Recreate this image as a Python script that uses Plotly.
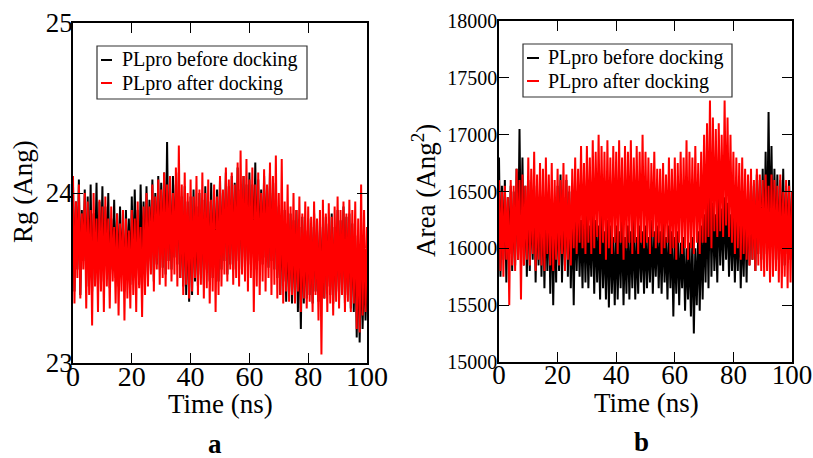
import plotly.graph_objects as go

time_ns = [i * 0.5 for i in range(201)]

rg_before = [
    24.05,23.42,23.95,23.55,24.08,23.40,23.90,23.60,24.02,23.45,
    23.98,23.50,24.05,23.42,23.88,23.58,24.06,23.45,23.95,23.55,
    24.04,23.48,23.92,23.60,24.00,23.44,23.85,23.55,23.96,23.50,
    23.88,23.45,23.92,23.58,23.80,23.42,23.90,23.52,23.85,23.46,
    23.98,23.50,24.02,23.58,23.90,23.46,24.05,23.55,23.95,23.50,
    24.04,23.52,23.96,23.60,24.08,23.48,24.00,23.58,24.10,23.55,
    24.06,23.56,24.12,23.52,24.30,23.60,24.02,23.55,24.10,23.62,
    24.05,23.58,24.12,23.50,23.98,23.45,24.04,23.40,23.95,23.36,
    23.98,23.40,24.02,23.48,23.92,23.45,24.00,23.52,23.96,23.46,
    24.04,23.55,23.95,23.48,24.06,23.50,23.98,23.56,24.02,23.48,
    24.08,23.55,24.00,23.60,24.12,23.52,24.04,23.58,24.10,23.55,
    24.06,23.60,24.15,23.55,24.02,23.62,24.10,23.56,24.05,23.60,
    24.12,23.58,24.05,23.62,24.18,23.55,24.08,23.60,24.02,23.58,
    24.10,23.62,24.04,23.56,24.12,23.60,24.00,23.55,24.06,23.50,
    23.92,23.40,23.85,23.48,23.90,23.36,23.82,23.42,23.88,23.35,
    23.84,23.40,23.90,23.30,23.80,23.20,23.86,23.35,23.78,23.38,
    23.85,23.40,23.80,23.35,23.88,23.42,23.78,23.36,23.84,23.40,
    23.80,23.38,23.86,23.45,23.82,23.40,23.88,23.35,23.80,23.42,
    23.90,23.38,23.84,23.45,23.92,23.35,23.86,23.40,23.88,23.32,
    23.82,23.30,23.75,23.15,23.70,23.12,23.65,23.20,23.60,23.25,
    23.55,
]

rg_after = [
    24.10,23.35,23.95,23.50,24.05,23.38,23.88,23.55,24.00,23.32,
    23.95,23.40,23.90,23.22,24.00,23.45,23.85,23.30,23.96,23.42,
    23.92,23.30,23.98,23.45,23.85,23.32,23.92,23.48,23.80,23.35,
    23.88,23.28,23.82,23.42,23.90,23.25,23.85,23.38,23.78,23.32,
    23.90,23.40,23.85,23.30,23.95,23.44,23.80,23.27,23.92,23.40,
    24.00,23.45,23.92,23.52,24.05,23.42,23.98,23.55,24.08,23.46,
    24.02,23.50,24.12,23.45,24.05,23.55,24.10,23.48,24.00,23.52,
    24.15,23.45,24.28,23.50,24.05,23.40,24.12,23.46,24.00,23.38,
    24.08,23.42,23.98,23.50,24.10,23.40,24.02,23.46,24.12,23.38,
    24.00,23.44,24.08,23.35,23.96,23.42,24.05,23.30,23.98,23.40,
    24.10,23.45,24.02,23.52,24.15,23.48,24.08,23.55,24.12,23.46,
    24.05,23.50,24.18,23.45,24.25,23.52,24.10,23.48,24.20,23.42,
    24.08,23.50,24.15,23.30,24.05,23.45,24.12,23.40,24.00,23.48,
    24.14,23.42,24.05,23.50,24.18,23.40,24.10,23.46,24.22,23.38,
    24.00,23.40,24.20,23.35,23.95,23.42,24.05,23.36,23.92,23.40,
    24.00,23.35,23.90,23.42,23.98,23.30,23.88,23.38,23.95,23.32,
    23.92,23.36,23.86,23.30,23.95,23.40,23.85,23.25,23.90,23.05,
    23.96,23.38,23.88,23.30,23.94,23.35,23.86,23.28,23.92,23.36,
    23.98,23.32,23.90,23.40,23.95,23.30,23.88,23.36,23.96,23.30,
    23.90,23.35,23.95,23.20,23.85,23.18,24.05,23.28,23.90,23.30,
    23.80,
]

area_before = [
    16800,15750,16550,15900,16600,15700,16450,15950,16550,15800,
    16500,15850,16700,15900,17050,15950,16800,15850,16550,15750,
    16600,15800,16450,15900,16550,15700,16400,15850,16500,15750,
    16450,15650,16350,15800,16500,15600,16400,15500,16300,15700,
    16550,15800,16650,15700,16450,15850,16600,15750,16500,15650,
    16350,15500,16400,15800,16300,15750,16250,15650,16350,15700,
    16300,15650,16200,15750,16350,15600,16250,15700,16200,15550,
    16300,15650,16150,15550,16250,15480,16200,15600,16100,15500,
    16200,15550,16150,15650,16250,15500,16100,15600,16200,15550,
    16150,15650,16250,15550,16100,15600,16200,15700,16150,15600,
    16200,15650,16100,15700,16250,15600,16150,15750,16200,15650,
    16150,15600,16250,15700,16100,15550,16200,15650,16150,15400,
    16100,15600,16150,15500,16050,15650,16100,15450,16000,15550,
    16050,15400,16100,15250,16000,15500,16150,15450,16200,15550,
    16300,15700,16450,15650,16650,15750,16400,15800,16300,15700,
    16500,15850,16350,15800,16450,15900,16400,15750,16300,15800,
    16300,15700,16250,15800,16350,15650,16200,15750,16400,15700,
    16500,15850,16600,15900,16550,15800,16650,15950,16600,15900,
    16700,15950,16850,16000,17200,16050,16900,15950,16700,15900,
    16650,15900,16600,15950,16700,15850,16550,15950,16600,15900,
    16500,
]

area_after = [
    16600,15800,16500,15750,16550,15900,16450,15500,16600,15850,
    16550,15800,16700,15900,16600,15550,16650,15850,16550,15900,
    16800,15850,16700,15950,16850,15800,16650,15900,16750,15850,
    16700,15800,16800,15950,16650,15850,16750,15800,16600,15900,
    16700,15850,16600,15950,16750,15800,16650,15900,16550,15850,
    16700,16000,16800,15950,16700,16050,16900,16000,16750,15950,
    16900,16050,16800,15950,16950,16000,16850,16100,17000,15950,
    16900,16050,16850,15900,16950,16000,16800,15950,16900,16050,
    16850,15950,16950,16050,16800,15900,16900,16000,16850,16050,
    16950,15950,16800,16050,16900,15950,16850,16050,17000,16000,
    16850,16050,16800,15950,16750,16100,16850,16000,16700,16050,
    16700,15950,16750,16000,16650,16050,16800,15950,16700,16000,
    16800,15900,16750,16050,16850,15950,16800,16000,16950,15900,
    16850,16000,16800,15950,16900,16050,16750,15950,16850,16050,
    17000,16050,17100,16100,17300,16000,17150,16150,17050,16100,
    17100,16150,17000,16100,17300,16200,17150,16100,17000,16050,
    16850,15950,16800,16000,16750,15900,16800,15950,16700,15900,
    16650,15850,16700,15900,16600,15800,16700,15850,16650,15800,
    16600,15750,16650,15800,16550,15700,16650,15750,16600,15800,
    16550,15700,16650,15650,16500,15750,16600,15650,16550,15700,
    16500,
]

series_names = ["PLpro before docking", "PLpro after docking"]
series_colors = ["#000000", "#ff0000"]
x_ticks = [0, 20, 40, 60, 80, 100]
rg_ticks = [23, 24, 25]
area_ticks = [15000, 15500, 16000, 16500, 17000, 17500, 18000]

W, H = 813, 458
FONT = "Liberation Serif"

fig = go.Figure()
for ys, name, col in [(rg_before, series_names[0], series_colors[0]),
                      (rg_after, series_names[1], series_colors[1])]:
    fig.add_trace(go.Scatter(x=time_ns, y=ys, mode="lines", name=name,
                             line=dict(color=col, width=2), xaxis="x", yaxis="y",
                             showlegend=False, hoverinfo="skip"))
for ys, name, col in [(area_before, series_names[0], series_colors[0]),
                      (area_after, series_names[1], series_colors[1])]:
    fig.add_trace(go.Scatter(x=time_ns, y=ys, mode="lines", name=name,
                             line=dict(color=col, width=2), xaxis="x2", yaxis="y2",
                             showlegend=False, hoverinfo="skip"))

def px(x):
    return x / W

def py(y):
    return 1 - y / H

axis_common = dict(showline=True, linecolor="black", linewidth=1.5, mirror="ticks",
                   ticks="inside", ticklen=10, tickwidth=1.2, tickcolor="black",
                   showgrid=False, zeroline=False, automargin=False)

fig.update_layout(
    width=W, height=H, autosize=False,
    margin=dict(l=0, r=0, t=0, b=0),
    paper_bgcolor="white", plot_bgcolor="white",
    font=dict(family=FONT, color="black"),
    xaxis=dict(domain=[px(73), px(367)], range=[0, 100], tickvals=x_ticks,
               tickfont=dict(family=FONT, size=28), ticklabelstandoff=-12,
               anchor="y", **axis_common),
    yaxis=dict(domain=[py(363), py(23)], range=[23, 25], tickvals=rg_ticks,
               tickfont=dict(family=FONT, size=27), ticklabelstandoff=-7,
               anchor="x", **axis_common),
    xaxis2=dict(domain=[px(499), px(792)], range=[0, 100], tickvals=x_ticks,
                tickfont=dict(family=FONT, size=27), ticklabelstandoff=-12,
                anchor="y2", **axis_common),
    yaxis2=dict(domain=[py(362), py(21)], range=[15000, 18000], tickvals=area_ticks,
                ticktext=[str(v) for v in area_ticks], ticklabelstandoff=-4,
                tickfont=dict(family=FONT, size=20), anchor="x2", **axis_common),
)

annotations = [
    dict(text="Rg (Ang)", x=px(23), y=py(192), textangle=-90, font=dict(size=27)),
    dict(text="Area (Ang<sup>2</sup>)", x=px(424), y=py(191), textangle=-90, font=dict(size=27)),
    dict(text="Time (ns)", x=px(221), y=py(404), font=dict(size=27)),
    dict(text="Time (ns)", x=px(646), y=py(403), font=dict(size=27)),
    dict(text="<b>a</b>", x=px(215), y=py(444), font=dict(size=27)),
    dict(text="<b>b</b>", x=px(641), y=py(442), font=dict(size=27)),
]

shapes = []
legends = [
    dict(box=(97, 46, 307, 99), dash=(101, 112), text_x=120, rows=(60, 83)),
    dict(box=(523, 44, 732, 97), dash=(527, 539), text_x=546, rows=(58, 81)),
]
for lg in legends:
    x0, y0, x1, y1 = lg["box"]
    shapes.append(dict(type="rect", xref="paper", yref="paper",
                       x0=px(x0), x1=px(x1), y0=py(y1), y1=py(y0),
                       line=dict(color="#333333", width=1.2), fillcolor="white",
                       layer="above"))
    for name, col, ry in zip(series_names, series_colors, lg["rows"]):
        shapes.append(dict(type="line", xref="paper", yref="paper",
                           x0=px(lg["dash"][0]), x1=px(lg["dash"][1]),
                           y0=py(ry), y1=py(ry), line=dict(color=col, width=2),
                           layer="above"))
        annotations.append(dict(text=name, x=px(lg["text_x"]), y=py(ry),
                                xanchor="left", font=dict(size=20)))

for a in annotations:
    a.setdefault("xref", "paper")
    a.setdefault("yref", "paper")
    a.setdefault("showarrow", False)
    a.setdefault("xanchor", "center")
    a.setdefault("yanchor", "middle")
    a["font"].setdefault("family", FONT)

fig.update_layout(annotations=annotations, shapes=shapes)
fig.write_html("out.html", config={"displayModeBar": False},
               post_script="document.body.style.margin='0';document.body.style.overflow='hidden';")
